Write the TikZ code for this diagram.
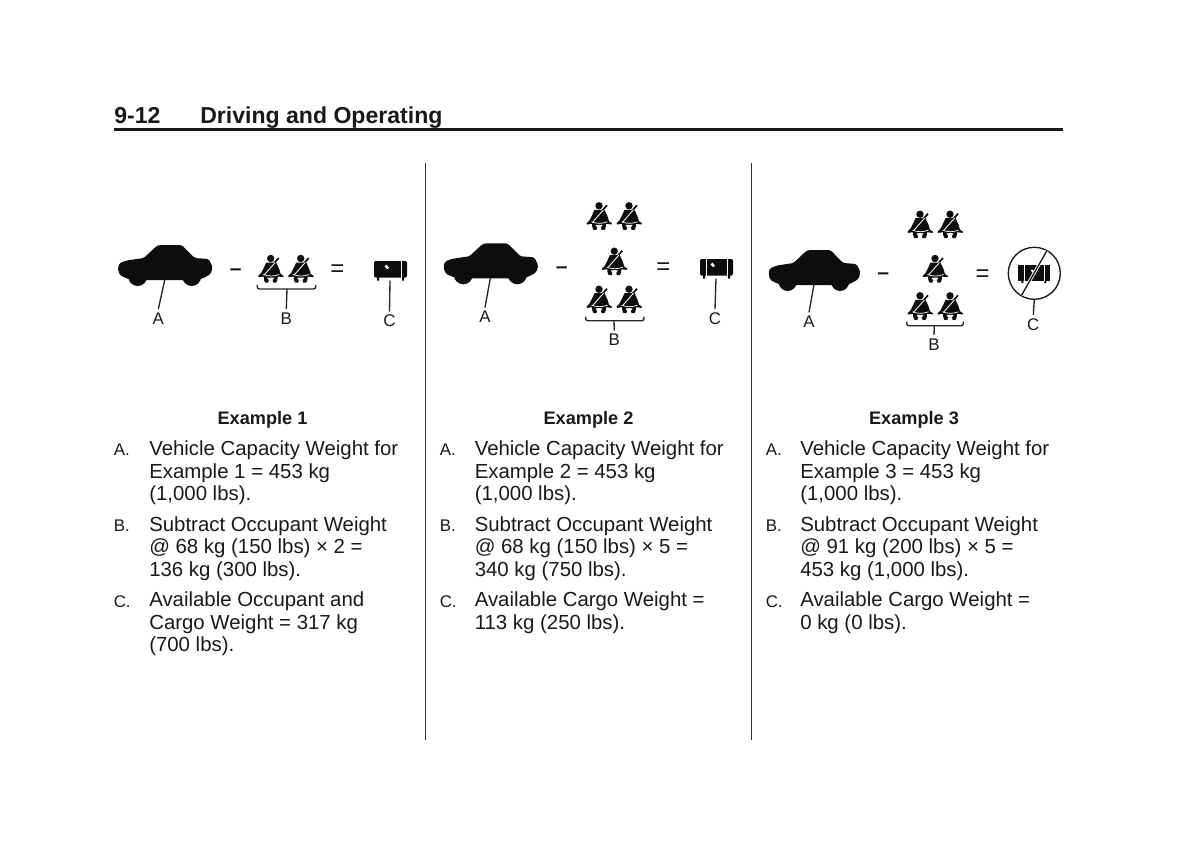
\documentclass[tikz,border=0pt]{standalone}
\usepackage{fontspec}
\setmainfont{Liberation Sans}
\usepackage{tikz}
\usetikzlibrary{calc}

\begin{document}
\begin{tikzpicture}[
  x=0.025cm, y=-0.025cm,
  every node/.style={align=left, font=\fontsize{14.5}{16}\selectfont, text=black!90, inner sep=0pt},
  head/.style={font=\fontsize{16.4}{20}\selectfont\bfseries, anchor=base west},
  title/.style={font=\fontsize{12.9}{15}\selectfont\bfseries},
  item/.style={anchor=north west},
  letter/.style={font=\fontsize{12}{15}\selectfont, anchor=north west},
  tag/.style={font=\fontsize{12}{14}\selectfont, outer sep=2.5pt},
  sign/.style={font=\fontsize{15}{16}\selectfont\bfseries},
  equal/.style={font=\fontsize{17}{18}\selectfont},
  stem/.style={draw=black!85, line width=0.95pt},
  brace/.style={draw=black!85, line width=0.95pt, rounded corners=1.5pt},
  carshape/.pic={
    \fill[black!95, rounded corners=1.2pt] (0,23) -- (2,18) -- (9,15.5) -- (26,13) -- (39,1) -- (42,0) -- (64,0) -- (77,13) -- (91,14) -- (95,22)
      -- (93,29) -- (86,33) -- (80,35) -- (14,35) -- (8,33) -- (2,30) -- cycle;
    \fill[black!95] (20,31.5) circle (9.5) (74,31.5) circle (9.5);
    \coordinate (-base) at (47,35);
  },
  belted/.pic={
    \fill[black!95] (0,3.5) circle (3.7);
    \fill[black!95] (-4.5,7.5) -- (5.5,7.5) -- (8.5,14) -- (10,19) -- (13,21) -- (12.5,22.2) -- (7,21.5) .. controls (7,25) and (6,27) .. (5.5,27.5) -- (2.5,27.5)
      -- (2,25) -- (-2,25) -- (-2.5,27.5) -- (-5.5,27.5) .. controls (-6,27) and (-7,25) .. (-7,21.5) -- (-12,22.2) -- (-12.5,21) -- (-9.5,18) -- (-6.5,12) -- cycle;
    \draw[black!95, line width=1.2pt] (8,3) -- (3.5,8);
    \draw[white, line width=0.6pt] (4.5,7.5) -- (-6.5,20);
    \draw[white, line width=0.5pt] (-7.5,19.5) .. controls (-2,21.5) and (3,21.5) .. (8.5,19.5);
    \fill[white] (-3.5,22.8) .. controls (-2,22.4) and (2,22.4) .. (3.5,22.8) -- (1.8,25.2) -- (-1.8,25.2) -- cycle;
  },
  cargo/.pic={
    \fill[black!95, rounded corners=1pt] (0,0) rectangle (33,16.5);
    \fill[black!95] (3,16) rectangle (5,19.5) (28,16) rectangle (30,19.5);
    \draw[white, line width=0.5pt] (27,0) -- (27,16.5);
    \draw[white, line width=1.8pt] (11.5,4.5) -- (14,7.5);
    \coordinate (-base) at (16,19.5);
  },
  nocrate/.pic={
    \fill[black!95] (0,0) rectangle (32,16);
    \fill[black!95] (3,16) rectangle (5,18) (26,16) rectangle (28,18);
    \draw[white, line width=0.4pt] (6,0) -- (6,16) (26,0) -- (26,16);
    \draw[white, line width=1.3pt] (13,5) -- (17,9);
  }
]
\useasboundingbox (0,0) rectangle (1200,840);

% page header
\node[head] (page) at (114,123.5) {9-12};
\node[head] (chapter) at (200,123.5) {Driving and Operating};
\draw[line width=2.2pt, black!90] (114,129.5) -- (1063,129.5);
\draw[black!80, line width=0.6pt] (425.5,163) -- (425.5,740);
\draw[black!80, line width=0.6pt] (751.5,163) -- (751.5,740);

% first column
\pic (car1) at (117.7,245) {carshape};
\node[sign] (minus1) at (235.7,272) {--};
\pic at (270.7,255) {belted};
\pic at (300.7,255) {belted};
\node[equal] (equal1) at (337.3,271) {=};
\pic (box1) at (374,261) {cargo};
\node[tag] (tagA1) at (158.3,318.5) {A};
\node[tag] (tagB1) at (286.3,318.5) {B};
\node[tag] (tagC1) at (389.5,321) {C};
\coordinate (brace1) at (287,289);
\draw[brace] (257.3,285) -- (257.3,289) -- (315.7,289) -- (315.7,285);
\draw[stem] (car1-base) -- (tagA1.north);
\draw[stem] (brace1) -- (tagB1.north);
\draw[stem] (box1-base) -- (tagC1.north);

% second column
\pic (car2) at (443.3,243.3) {carshape};
\node[sign] (minus2) at (561.7,270) {--};
\pic at (599,202.3) {belted};
\pic at (629,202.3) {belted};
\pic at (614.3,247.7) {belted};
\pic at (599,285.7) {belted};
\pic at (629,285.7) {belted};
\node[equal] (equal2) at (663.3,269) {=};
\pic (box2) at (700,259) {cargo};
\draw[white, line width=0.5pt] (706,259) -- (706,275.5);
\node[tag] (tagA2) at (485,316.7) {A};
\node[tag] (tagB2) at (614.3,340) {B};
\node[tag] (tagC2) at (715,318.5) {C};
\coordinate (brace2) at (614,320.7);
\draw[brace] (585.7,316.5) -- (585.7,320.7) -- (644,320.7) -- (644,316.5);
\draw[stem] (car2-base) -- (tagA2.north);
\draw[stem] (brace2) -- (tagB2.north);
\draw[stem] (box2-base) -- (tagC2.north);

% third column
\pic[xscale=0.97] (car3) at (768.3,250) {carshape};
\node[sign] (minus3) at (883.3,276.5) {--};
\pic at (920,210.7) {belted};
\pic at (950,210.7) {belted};
\pic at (935,255) {belted};
\pic at (920,292.3) {belted};
\pic at (950,292.3) {belted};
\node[equal] (equal3) at (982.7,275.5) {=};
\pic at (1018.3,265) {nocrate};
\node[draw=black!90, line width=0.95pt, circle, minimum size=1.3cm] (nocargo) at (1034.3,273.3) {};
\draw[white, line width=2.2pt] (1021.7,295) -- (1046.7,251);
\draw[black!90, line width=0.95pt] (1021.7,295) -- (1046.7,251);
\node[tag] (tagA3) at (809,321.7) {A};
\node[tag] (tagB3) at (934,344.3) {B};
\node[tag] (tagC3) at (1033.3,324.3) {C};
\coordinate (brace3) at (934.3,325.7);
\draw[brace] (906.7,321.5) -- (906.7,325.7) -- (963.3,325.7) -- (963.3,321.5);
\draw[stem] (car3-base) -- (tagA3.north);
\draw[stem] (brace3) -- (tagB3.north);
\draw[stem] (nocargo.south) -- (tagC3.north);

% captions
\node[title] (ex1) at (262.5,420) {Example 1};
\node[title] (ex2) at (588.5,420) {Example 2};
\node[title] (ex3) at (914,420) {Example 3};

\node[letter] (a1) at (113.5,444) {A.};
\node[item] (ta1) at (149,440.5) {Vehicle Capacity Weight for\\Example 1 = 453 kg\\(1,000 lbs).};
\node[letter] (b1) at (113.5,519.5) {B.};
\node[item] (tb1) at (149,516) {Subtract Occupant Weight\\@ 68 kg (150 lbs) × 2 =\\136 kg (300 lbs).};
\node[letter] (c1) at (113.5,595) {C.};
\node[item] (tc1) at (149,591.5) {Available Occupant and\\Cargo Weight = 317 kg\\(700 lbs).};

\node[letter] (a2) at (439.5,444) {A.};
\node[item] (ta2) at (474.5,440.5) {Vehicle Capacity Weight for\\Example 2 = 453 kg\\(1,000 lbs).};
\node[letter] (b2) at (439.5,519.5) {B.};
\node[item] (tb2) at (474.5,516) {Subtract Occupant Weight\\@ 68 kg (150 lbs) × 5 =\\340 kg (750 lbs).};
\node[letter] (c2) at (439.5,595) {C.};
\node[item] (tc2) at (474.5,591.5) {Available Cargo Weight =\\113 kg (250 lbs).};

\node[letter] (a3) at (765.5,444) {A.};
\node[item] (ta3) at (800,440.5) {Vehicle Capacity Weight for\\Example 3 = 453 kg\\(1,000 lbs).};
\node[letter] (b3) at (765.5,519.5) {B.};
\node[item] (tb3) at (800,516) {Subtract Occupant Weight\\@ 91 kg (200 lbs) × 5 =\\453 kg (1,000 lbs).};
\node[letter] (c3) at (765.5,595) {C.};
\node[item] (tc3) at (800,591.5) {Available Cargo Weight =\\0 kg (0 lbs).};
\end{tikzpicture}
\end{document}
